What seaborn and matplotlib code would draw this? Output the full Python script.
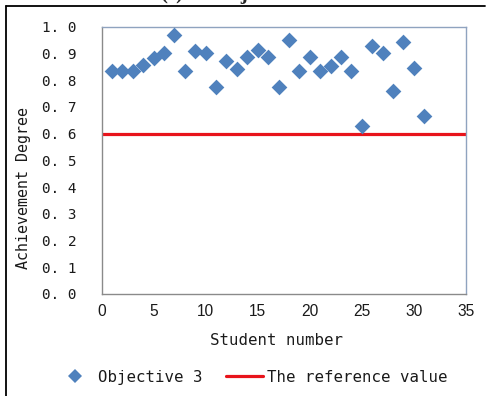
import matplotlib
matplotlib.use("Agg")
import matplotlib.pyplot as plt
import seaborn as sns
import pandas as pd
from matplotlib.lines import Line2D

students = list(range(1, 32))
achievement = [0.833, 0.833, 0.833, 0.855, 0.884, 0.900, 0.970, 0.833, 0.908, 0.901,
               0.776, 0.871, 0.843, 0.887, 0.913, 0.887, 0.776, 0.950, 0.833, 0.887,
               0.833, 0.853, 0.887, 0.833, 0.630, 0.926, 0.901, 0.760, 0.943, 0.847,
               0.667]
reference_value = 0.6
x_ticks = [0, 5, 10, 15, 20, 25, 30, 35]
y_ticks = [0.0, 0.1, 0.2, 0.3, 0.4, 0.5, 0.6, 0.7, 0.8, 0.9, 1.0]

df = pd.DataFrame({"Student number": students, "Achievement Degree": achievement})

sns.set_style("white")
plt.rcParams['font.family'] = ['DejaVu Sans Mono', 'DejaVu Sans']

fig = plt.figure(figsize=(4.87, 3.96), dpi=100)
ax = fig.add_axes([0.2088, 0.2576, 0.9563 - 0.2088, 0.9326 - 0.2576])

blue = "#4F81BD"
red = "#E8141B"
sns.scatterplot(data=df, x="Student number", y="Achievement Degree", ax=ax,
                marker="D", s=64, color=blue, linewidth=0, label="Objective 3",
                legend=False, zorder=3)
ax.axhline(reference_value, color=red, lw=2.3, zorder=2)

ax.set_xlim(0, 35)
ax.set_ylim(0, 1.0)
ax.set_xticks(x_ticks)
ax.set_yticks(y_ticks)
ax.set_xticklabels([str(v) for v in x_ticks], family="Liberation Sans", fontsize=11.2)
ax.set_yticklabels([f"{v:.1f}".replace(".", ". ") for v in y_ticks],
                   family="DejaVu Sans Mono", fontsize=10.4)

spine_col = "#8FA3BF"
for s in ax.spines.values():
    s.set_color(spine_col)
    s.set_linewidth(1.0)
ax.spines["left"].set_color("#8A8A8A")
ax.spines["bottom"].set_color("#8A8A8A")
ax.tick_params(axis="both", which="both", direction="out", length=4, width=0.8,
               color="#8A8A8A", labelcolor="#1a1a1a")
ax.tick_params(axis="y", pad=14)
ax.tick_params(axis="x", pad=3)

ax.set_xlabel("Student number", fontsize=11.3, color="#1a1a1a")
ax.set_ylabel("Achievement Degree", fontsize=10.8, color="#1a1a1a")
ax.xaxis.set_label_coords(0.479, -0.146)
ax.yaxis.set_label_coords(-0.216, 0.397)
ax.yaxis.label.set_va("center")

handles = [Line2D([], [], marker="D", color=blue, linestyle="none", markersize=7.6,
                  markeredgewidth=0),
           Line2D([], [], color=red, lw=2.3)]
fig.legend(handles, ["Objective 3", "The reference value"], loc="center",
           bbox_to_anchor=(0.517, 0.047), ncol=2, frameon=False, fontsize=11.3,
           handlelength=2.4, handletextpad=0.25, columnspacing=1.5,
           labelcolor="#1a1a1a")

# frame lines of the cropped figure
fig.add_artist(Line2D([6 / 487, 485 / 487], [1 - 6 / 396, 1 - 6 / 396],
                      color="black", lw=1.3, transform=fig.transFigure))
fig.add_artist(Line2D([6 / 487, 6 / 487], [0, 1 - 6 / 396],
                      color="black", lw=1.3, transform=fig.transFigure))
# cropped title (only its lowest part is visible, as in the reference)
fig.text(160 / 487, 1.0 + 0.5 / 396, "(c)", family="Liberation Serif",
         fontweight="bold", fontsize=15, ha="left", va="baseline")
fig.text(213 / 487, 1.0 + 0.5 / 396, "Objective 3", family="Liberation Serif",
         fontweight="bold", fontsize=15, ha="left", va="baseline")

fig.savefig("out.png", dpi=100)
